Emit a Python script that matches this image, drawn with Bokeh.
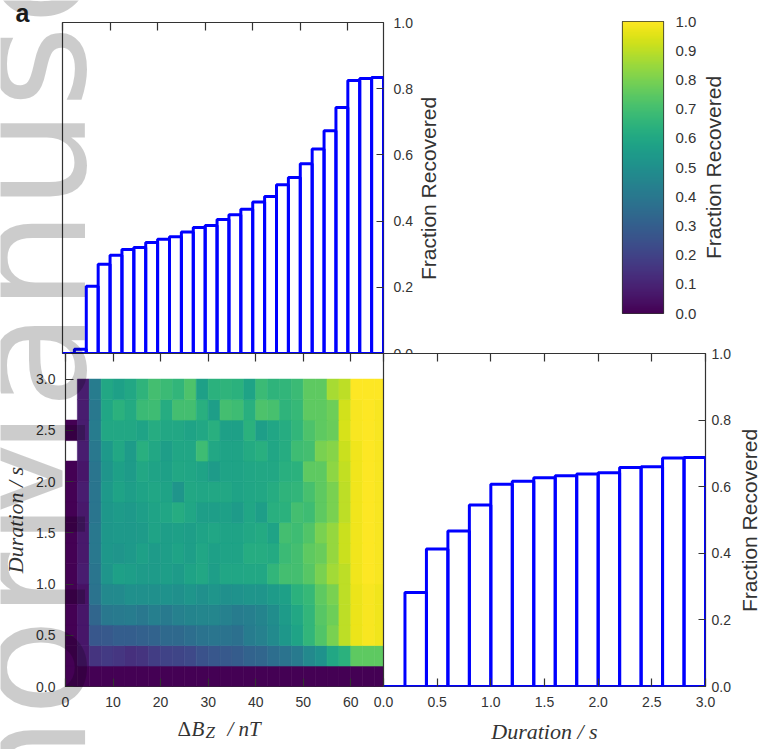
import numpy as np
from bokeh.plotting import figure
from bokeh.models import (LinearAxis, FixedTicker, Range1d, LinearColorMapper,
                          ColumnDataSource, PrintfTickFormatter, GridBox)
from bokeh.layouts import column
from bokeh.palettes import Viridis256
from bokeh.transform import linear_cmap
from bokeh.core.properties import value
from bokeh.embed import file_html
from bokeh.resources import INLINE

# ---------------- data ----------------
bz_edges = [0.0, 2.5, 5.0, 7.5, 10.0, 12.5, 15.0, 17.5, 20.0, 22.5, 25.0, 27.5, 30.0, 32.5,
            35.0, 37.5, 40.0, 42.5, 45.0, 47.5, 50.0, 52.5, 55.0, 57.5, 60.0, 62.5, 65.0, 67.5]
frac_bz = [0.0, 0.013, 0.203, 0.270, 0.297, 0.314, 0.320, 0.335, 0.345, 0.353, 0.367, 0.381,
           0.387, 0.405, 0.419, 0.436, 0.458, 0.474, 0.510, 0.532, 0.573, 0.618, 0.673, 0.743,
           0.825, 0.831, 0.834]

dur_edges = [0.0, 0.2, 0.4, 0.6, 0.8, 1.0, 1.2, 1.4, 1.6, 1.8, 2.0, 2.2, 2.4, 2.6, 2.8, 3.0]
frac_dur = [0.0, 0.282, 0.413, 0.467, 0.545, 0.607, 0.616, 0.627, 0.633, 0.638, 0.642, 0.658,
            0.660, 0.686, 0.688]

# fraction recovered per (duration row, dBz column); rows from 0.0-0.2 s upward, None = no events
heat_rows = [
    [0.00, 0.00, 0.00, 0.00, 0.00, 0.00, 0.00, 0.00, 0.00, 0.00, 0.00, 0.00, 0.00, 0.00, 0.00, 0.00, 0.00, 0.00, 0.00, 0.00, 0.00, 0.00, 0.00, 0.00, 0.00, 0.00, 0.00],
    [0.00, 0.06, 0.15, 0.17, 0.16, 0.14, 0.15, 0.18, 0.20, 0.21, 0.22, 0.25, 0.27, 0.28, 0.29, 0.32, 0.33, 0.36, 0.38, 0.41, 0.47, 0.51, 0.60, 0.64, 0.75, 0.75, 0.75],
    [0.00, 0.06, 0.27, 0.28, 0.30, 0.30, 0.31, 0.32, 0.34, 0.34, 0.36, 0.38, 0.39, 0.38, 0.37, 0.42, 0.44, 0.48, 0.53, 0.58, 0.66, 0.73, 0.80, 0.90, 0.97, 0.99, 0.98],
    [0.00, 0.06, 0.33, 0.40, 0.41, 0.42, 0.40, 0.43, 0.41, 0.44, 0.45, 0.46, 0.46, 0.44, 0.42, 0.43, 0.45, 0.49, 0.55, 0.60, 0.66, 0.74, 0.78, 0.90, 0.97, 0.99, 0.98],
    [0.00, 0.05, 0.38, 0.47, 0.48, 0.50, 0.50, 0.50, 0.51, 0.50, 0.52, 0.50, 0.52, 0.50, 0.51, 0.52, 0.52, 0.55, 0.57, 0.64, 0.67, 0.75, 0.80, 0.90, 0.97, 0.99, 0.98],
    [0.00, 0.08, 0.39, 0.52, 0.57, 0.56, 0.55, 0.55, 0.56, 0.55, 0.58, 0.60, 0.56, 0.59, 0.59, 0.60, 0.60, 0.66, 0.70, 0.70, 0.74, 0.80, 0.86, 0.90, 0.98, 1.00, 0.99],
    [0.00, 0.07, 0.40, 0.53, 0.52, 0.54, 0.57, 0.55, 0.56, 0.58, 0.56, 0.59, 0.57, 0.58, 0.58, 0.62, 0.62, 0.61, 0.68, 0.70, 0.75, 0.77, 0.84, 0.92, 0.98, 1.00, 0.99],
    [0.00, 0.07, 0.40, 0.53, 0.54, 0.54, 0.55, 0.58, 0.56, 0.57, 0.56, 0.58, 0.59, 0.58, 0.58, 0.60, 0.61, 0.58, 0.70, 0.69, 0.73, 0.80, 0.84, 0.92, 0.98, 1.00, 0.99],
    [0.00, 0.07, 0.39, 0.53, 0.55, 0.54, 0.56, 0.58, 0.59, 0.62, 0.59, 0.56, 0.56, 0.57, 0.55, 0.59, 0.56, 0.63, 0.64, 0.70, 0.69, 0.75, 0.80, 0.90, 0.98, 1.00, 0.99],
    [0.00, 0.08, 0.39, 0.54, 0.58, 0.56, 0.58, 0.59, 0.58, 0.52, 0.60, 0.59, 0.60, 0.60, 0.58, 0.59, 0.60, 0.62, 0.65, 0.66, 0.71, 0.75, 0.80, 0.90, 0.98, 1.00, 0.99],
    [0.00, 0.06, 0.39, 0.52, 0.57, 0.55, 0.60, 0.58, 0.57, 0.60, 0.59, 0.58, 0.55, 0.58, 0.58, 0.59, 0.60, 0.60, 0.63, 0.64, 0.75, 0.75, 0.83, 0.91, 0.98, 1.00, 0.99],
    [None, 0.08, 0.40, 0.54, 0.60, 0.55, 0.63, 0.60, 0.56, 0.59, 0.59, 0.69, 0.60, 0.58, 0.58, 0.61, 0.63, 0.59, 0.62, 0.69, 0.70, 0.80, 0.82, 0.92, 0.98, 1.00, 0.99],
    [0.00, 0.08, 0.42, 0.60, 0.60, 0.60, 0.58, 0.62, 0.60, 0.60, 0.58, 0.60, 0.63, 0.57, 0.57, 0.64, 0.56, 0.59, 0.62, 0.66, 0.72, 0.75, 0.77, 0.94, 0.99, 1.00, 0.99],
    [None, 0.08, 0.40, 0.59, 0.64, 0.61, 0.68, 0.69, 0.62, 0.70, 0.70, 0.63, 0.56, 0.70, 0.69, 0.63, 0.72, 0.71, 0.65, 0.67, 0.75, 0.75, 0.78, 0.93, 0.99, 1.00, 0.99],
    [None, 0.08, 0.42, 0.60, 0.57, 0.60, 0.65, 0.70, 0.68, 0.66, 0.72, 0.57, 0.64, 0.65, 0.64, 0.58, 0.68, 0.65, 0.66, 0.68, 0.75, 0.75, 0.87, 0.90, 1.00, 1.00, 1.00],
]

bz_ticks = [0, 10, 20, 30, 40, 50, 60]
dur_ticks = [0.0, 0.5, 1.0, 1.5, 2.0, 2.5, 3.0]
frac_ticks = [0.0, 0.2, 0.4, 0.6, 0.8, 1.0]
cbar_ticks = [0.0, 0.1, 0.2, 0.3, 0.4, 0.5, 0.6, 0.7, 0.8, 0.9, 1.0]

# ---------------- styling helpers ----------------
TXT = "#333333"
BLUE = "#0000ff"
SANS = "Liberation Sans"
SERIF = "Liberation Serif"
W, H = 765, 749


def hide_grids(p):
    for g in p.xgrid + p.ygrid:
        g.visible = False


def layer(xr, yr, fx, fy, fw, fh):
    """A full-page, transparent canvas whose plotting frame sits at (fx, fy) with size fw x fh."""
    p = figure(x_range=xr, y_range=yr, frame_width=fw, frame_height=fh,
               min_border_left=fx, min_border_top=fy,
               min_border_right=W - fx - fw, min_border_bottom=H - fy - fh,
               x_axis_location=None, y_axis_location=None,
               toolbar_location=None, output_backend="svg",
               background_fill_color="white", border_fill_color=None)
    p.outline_line_color = "#333333"
    p.outline_line_width = 1.2
    hide_grids(p)
    return p


def add_axis(p, side, ticks, labels=True, fmt="%.1f", tick_in=8, standoff=10,
             label="", label_standoff=5, label_font=SANS, label_style="normal",
             label_size="21px", tick_size="14px", ticks_visible=True):
    ax = LinearAxis(ticker=FixedTicker(ticks=ticks))
    ax.axis_line_color = None
    ax.major_tick_in = tick_in if ticks_visible else 0
    ax.major_tick_out = 0
    ax.major_tick_line_color = "#333333" if ticks_visible else None
    ax.major_tick_line_width = 1.2
    ax.minor_tick_line_color = None
    ax.formatter = PrintfTickFormatter(format=fmt)
    if labels:
        ax.major_label_text_font = SANS
        ax.major_label_text_font_size = tick_size
        ax.major_label_text_color = TXT
        ax.major_label_standoff = standoff
    else:
        ax.major_label_text_font_size = "0px"
        ax.major_label_standoff = 0
        ax.major_label_text_color = None
    if label:
        ax.axis_label = label
        ax.axis_label_text_font = label_font
        ax.axis_label_text_font_style = label_style
        ax.axis_label_text_font_size = label_size
        ax.axis_label_text_color = TXT
        ax.axis_label_standoff = label_standoff
    p.add_layout(ax, side)
    return ax


# ---------------- top histogram (dBz) ----------------
p_top = layer(Range1d(0, 67.5), Range1d(0, 1.0), 62, 22, 321, 331)
p_top.quad(left=bz_edges[:-1], right=bz_edges[1:], bottom=0, top=frac_bz,
           fill_color=None, line_color=BLUE, line_width=3)
add_axis(p_top, "above", bz_ticks, labels=False)
add_axis(p_top, "right", frac_ticks, standoff=10, tick_in=7)

# ---------------- colorbar ----------------
p_cb = layer(Range1d(0, 1), Range1d(0, 1), 622, 21, 41, 292)
cmap_cb = LinearColorMapper(palette=Viridis256, low=0, high=1)
p_cb.image(image=[np.linspace(0, 1, 256).reshape(256, 1)], x=0, y=0, dw=1, dh=1,
           color_mapper=cmap_cb)
add_axis(p_cb, "right", cbar_ticks, standoff=12, ticks_visible=False, tick_size="15px")

# ---------------- heatmap ----------------
hl, hr, hb, ht, hv = [], [], [], [], []
for i, vals in enumerate(heat_rows):
    for j, v in enumerate(vals):
        if v is None:
            continue
        hl.append(bz_edges[j]); hr.append(bz_edges[j + 1])
        hb.append(dur_edges[i]); ht.append(dur_edges[i + 1]); hv.append(v)
src = ColumnDataSource(dict(l=hl, r=hr, b=hb, t=ht, v=hv))

p_hm = layer(Range1d(0, 67.5), Range1d(0, 3.25), 62, 353, 321, 333)
cm = linear_cmap("v", Viridis256, 0, 1)
p_hm.quad(left="l", right="r", bottom="b", top="t", source=src,
          fill_color=cm, line_color=cm, line_width=0.6)
add_axis(p_hm, "above", bz_ticks, labels=False)
add_axis(p_hm, "below", bz_ticks, fmt="%d", standoff=10)
add_axis(p_hm, "left", dur_ticks, standoff=10, label="Duration / s", label_standoff=5,
         label_font=SERIF, label_style="italic", label_size="22px")

# ---------------- duration histogram ----------------
p_dur = layer(Range1d(0, 3.0), Range1d(0, 1.0), 383, 353, 322, 333)
p_dur.quad(left=dur_edges[:-1], right=dur_edges[1:], bottom=0, top=frac_dur,
           fill_color=None, line_color=BLUE, line_width=3)
add_axis(p_dur, "above", dur_ticks, labels=False)
add_axis(p_dur, "below", dur_ticks, standoff=10, label="Duration / s", label_standoff=9,
         label_font=SERIF, label_style="italic", label_size="22px")
add_axis(p_dur, "right", frac_ticks, standoff=6, tick_in=7)

# ---------------- page overlay: upward-reading titles, panel letter, x label, stamp ----------------
ov = figure(x_range=Range1d(0, W), y_range=Range1d(H, 0), frame_width=W, frame_height=H,
            min_border=0, x_axis_location=None, y_axis_location=None,
            toolbar_location=None, output_backend="svg",
            background_fill_color=None, border_fill_color=None)
ov.outline_line_color = None
hide_grids(ov)

# grey "Author Manuscript" stamp running up the left edge
ov.text(x=[29, 29], y=[1091, 547], text=["Author", "Manuscript"], angle=np.pi / 2,
        text_font=value("DejaVu Sans"), text_font_size="160px", text_color="black",
        text_alpha=0.2, text_align="left", text_baseline="middle")
# panel letter
ov.text(x=[15], y=[12], text=["a"], text_font=value(SANS), text_font_style="bold",
        text_font_size="25px", text_color="#1a1a1a", text_baseline="middle")
# right-hand axis titles (reading upwards)
ov.text(x=[428, 713, 749], y=[188, 167, 520],
        text=["Fraction Recovered", "Fraction Recovered", "Fraction Recovered"],
        angle=np.pi / 2, text_font=value(SANS), text_font_size="21px", text_color=TXT,
        text_align="center", text_baseline="middle")
# x label of the heat map:  ΔB_Z / nT
ov.text(x=[177], y=[728], text=["\u0394"], text_font=value(SERIF), text_font_size="21px",
        text_color=TXT, text_baseline="middle")
ov.text(x=[191, 227, 238], y=[728, 728, 728], text=["B", "/", "nT"], text_font=value(SERIF),
        text_font_style="italic", text_font_size="21px", text_color=TXT,
        text_baseline="middle")
ov.text(x=[205], y=[732], text=["Z"], text_font=value(SERIF), text_font_style="italic",
        text_font_size="17px", text_color=TXT, text_baseline="middle")

# each page layer is wrapped on its own so that the grid does not line their frames up
page = GridBox(children=[(column(p), 0, 0) for p in (p_top, p_cb, p_hm, p_dur, ov)])

open("out.html", "w").write(file_html(page, INLINE))
